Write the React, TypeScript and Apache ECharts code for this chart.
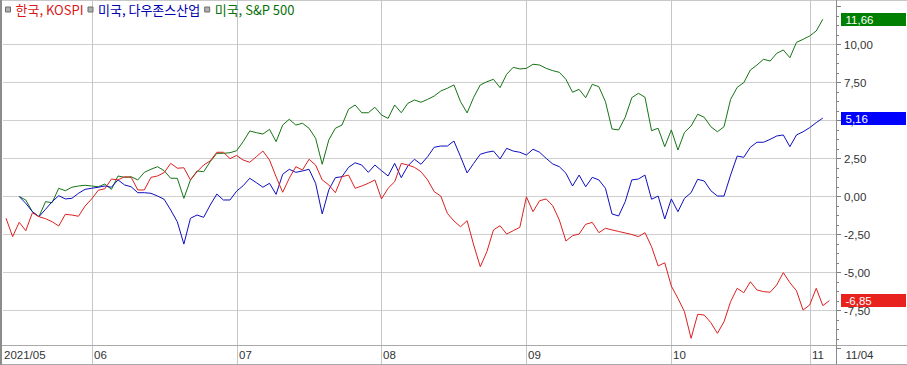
import React, { useEffect, useRef } from "react";
import * as echarts from "echarts";

// ---- data (trading-day index 0 = 2021-05-13, last = 2021-11-04) ----
const seriesNames = ["한국, KOSPI", "미국, 다우존스산업", "미국, S&P 500"];
const monthLabels = ["2021/05", "06", "07", "08", "09", "10", "11"];
const monthStartIdx = [0, 13, 35, 57, 79, 101, 122];
const lastDateLabel = "11/04";

const kospi = [
  -1.43, -2.64, -1.7, -2.25, -1.07, -1.33, -1.46, -1.66, -1.94, -1.17,
  -1.22, -1.3, -0.63, -0.16, 0.41, 0.51, 1.15, 1.09, 1.3, 1.26,
  0.43, 0.43, 1.26, 1.35, 1.57, 2.18, 1.86, 1.89, 1.09, 1.63,
  2.07, 2.34, 2.91, 2.91, 2.49, 2.7, 2.4, 2.25, 2.62, 2.99,
  2.4, 1.3, 0.28, 1.2, 1.96, 1.74, 2.45, 2.07, 1.09, 0.76,
  0.25, 1.3, 1.41, 0.54, 0.69, 0.87, 1.09, -0.16, 0.54, 0.97,
  2.18, 2.07, 1.92, 1.63, 1.09, 0.32, 0.03, -1.11, -1.61, -1.99,
  -1.59, -3.19, -4.62, -3.63, -2.2, -1.92, -2.47, -2.25, -2.03, -0.02,
  -1.0, -0.28, -0.16, -0.61, -1.55, -2.93, -2.58, -2.47, -1.83, -1.7,
  -2.38, -2.09, -2.2, -2.3, -2.4, -2.5, -2.64, -2.38, -3.3, -4.57,
  -4.36, -5.89, -6.7, -7.58, -9.33, -7.75, -7.8, -8.3, -9.0, -8.24,
  -6.92, -6.04, -6.33, -5.61, -6.15, -6.26, -6.3, -5.82, -5.01, -5.67,
  -6.2, -7.47, -7.14, -6.04, -7.18, -6.85,
];

const dow = [
  null, null, 0.0, -0.45, -1.0, -1.33, -0.84, -0.34, 0.05, -0.16,
  -0.12, 0.21, 0.47, 0.54, 0.61, 0.69, 0.61, 1.09, 0.76, 0.64,
  0.25, 0.25, 0.21, 0.03, -0.18, -0.89, -1.66, -3.13, -1.43, -1.22,
  -1.37, -0.56, 0.16, -0.23, -0.23, 0.35, 0.71, 1.2, 0.91, 0.61,
  0.87, 0.14, 1.46, 1.79, 1.59, 1.68, 1.79, 0.87, -1.15, 0.43,
  1.24, 1.3, 1.92, 2.22, 2.07, 1.59, 2.07, 1.7, 1.35, 2.18,
  1.24, 2.01, 2.45, 2.12, 2.62, 3.24, 3.32, 3.32, 3.65, 2.62,
  1.55, 2.18, 2.78, 2.91, 2.99, 2.47, 3.17, 2.99, 2.91, 2.73,
  3.11, 2.91, 2.51, 2.14, 1.96, 1.53, 0.69, 1.41, 0.64, 1.26,
  1.09, 0.54, -1.15, -1.28, -0.34, 1.09, 1.15, 1.41, -0.18, 0.03,
  -1.48, -0.16, -1.0, -0.12, 0.25, 1.13, 1.02, 0.38, 0.03, 0.03,
  1.41, 2.66, 2.58, 3.24, 3.57, 3.57, 3.76, 3.98, 4.05, 3.28,
  4.05, 4.26, 4.53, 4.86, 5.16,
];

const sp500 = [
  null, null, 0.0, -0.23, -1.0, -1.33, -0.34, -0.41, 0.54, 0.38,
  0.61, 0.69, 0.74, 0.69, 0.64, 0.82, 0.47, 1.35, 1.26, 1.3,
  1.09, 1.59, 1.79, 1.96, 1.7, 1.2, 1.2, -0.12, 1.09, 1.68,
  1.63, 2.29, 2.84, 2.84, 2.88, 3.01, 3.61, 4.31, 4.2, 4.11,
  4.42, 3.61, 4.7, 5.08, 4.7, 4.82, 4.49, 3.83, 2.12, 3.72,
  4.49, 4.7, 5.74, 6.02, 5.51, 5.51, 5.87, 5.36, 5.14, 6.02,
  5.51, 6.13, 6.35, 6.2, 6.39, 6.61, 6.94, 7.12, 7.34, 6.24,
  5.5, 6.53, 7.34, 7.55, 7.71, 7.16, 8.04, 8.5, 8.39, 8.43,
  8.7, 8.65, 8.43, 8.28, 8.17, 7.71, 6.86, 7.05, 6.5, 7.38,
  7.22, 6.24, 4.44, 4.38, 5.21, 6.5, 6.79, 6.53, 4.33, 4.49,
  3.28, 4.38, 3.06, 4.22, 4.64, 5.41, 5.21, 4.59, 4.26, 4.59,
  6.39, 7.18, 7.49, 8.32, 8.65, 9.03, 8.91, 9.42, 9.64, 9.13,
  10.14, 10.34, 10.56, 10.89, 11.66,
];

const allSeries = [kospi, dow, sp500];
const lineColors = ["#dc2020", "#0e0ec0", "#167416"];
const legendColors = ["#d81818", "#0000b0", "#0a700a"];
const boxColors = ["#e8221c", "#0000ff", "#008000"];

const X_MIN = -0.46;
const X_MAX = 126;
const Y_MIN = -10;
const Y_MAX = 12.5;
const Y_STEP = 2.5;

const NUM_FONT = '"Liberation Sans", Arial, sans-serif';
const fmt = (v: number) => v.toFixed(2).replace(".", ",");

export default function App() {
  const ref = useRef<HTMLDivElement>(null);

  useEffect(() => {
    const el = ref.current;
    if (!el) return;
    const chart = echarts.init(el, null, { renderer: "svg" });

    const series = allSeries.map((arr, k) => ({
      name: seriesNames[k],
      type: "line",
      data: arr
        .map((v, i) => [i, v])
        .filter((p) => p[1] !== null && p[1] !== undefined),
      showSymbol: false,
      symbol: "none",
      lineStyle: { color: lineColors[k], width: 1 },
      itemStyle: { color: lineColors[k] },
      z: 3 + (2 - k),
    }));

    chart.setOption({
      animation: false,
      backgroundColor: "#ffffff",
      grid: { left: 3, right: 71, top: 6.5, bottom: 16.5, containLabel: false },
      legend: {
        left: 5,
        top: 3,
        padding: 0,
        icon: "rect",
        itemWidth: 5,
        itemHeight: 5,
        itemGap: 4,
        textStyle: { fontSize: 13, fontFamily: '"Noto Sans CJK KR", sans-serif' },
        data: seriesNames.map((n, k) => ({
          name: n,
          itemStyle: { color: "#b0b0b0", borderColor: "#6e6e6e", borderWidth: 1 },
          textStyle: { color: legendColors[k] },
        })),
      },
      xAxis: {
        type: "value",
        min: X_MIN,
        max: X_MAX,
        axisLine: { show: false, onZero: false },
        axisTick: { show: false },
        axisLabel: { show: false },
        splitLine: { show: false },
      },
      yAxis: {
        type: "value",
        position: "right",
        min: Y_MIN,
        max: Y_MAX,
        interval: Y_STEP,
        axisLine: { show: false, onZero: false },
        axisTick: { show: true, length: 5, lineStyle: { color: "#808080" } },
        minorTick: { show: true, splitNumber: 4, length: 3, lineStyle: { color: "#808080" } },
        axisLabel: {
          margin: 8,
          color: "#333333",
          fontSize: 11.5,
          fontFamily: NUM_FONT,
          showMinLabel: false,
          showMaxLabel: false,
          formatter: (v: number) => fmt(v),
        },
        splitLine: {
          show: true,
          showMinLine: false,
          showMaxLine: false,
          lineStyle: { color: "#cfcfcf", width: 1 },
        },
      },
      series,
    });

    const X = (i: number) => chart.convertToPixel({ xAxisIndex: 0 }, i) as number;
    const Y = (v: number) => chart.convertToPixel({ yAxisIndex: 0 }, v) as number;
    const axisX = Math.round(X(X_MAX)) + 0.5;
    const stripTop = 345.5;
    const stripBottom = 364.5;
    const W = 907;

    const g: any[] = [];
    g.push({ type: "line", z: 1, silent: true, shape: { x1: 0, y1: 0.5, x2: W, y2: 0.5 }, style: { stroke: "#c8c8c8", lineWidth: 1 } });
    monthStartIdx.slice(1).forEach((i) => {
      const x = Math.round(X(i)) + 0.5;
      g.push({ type: "line", z: 1, silent: true, shape: { x1: x, y1: 0, x2: x, y2: stripBottom }, style: { stroke: "#c6c6c6", lineWidth: 1 } });
    });
    g.push({ type: "line", z: 1, silent: true, shape: { x1: 0, y1: stripTop, x2: W, y2: stripTop }, style: { stroke: "#a8a8a8", lineWidth: 1 } });
    g.push({ type: "line", z: 1, silent: true, shape: { x1: 0, y1: stripBottom, x2: W, y2: stripBottom }, style: { stroke: "#a8a8a8", lineWidth: 1 } });
    g.push({ type: "line", z: 1, silent: true, shape: { x1: axisX, y1: 0, x2: axisX, y2: stripBottom }, style: { stroke: "#8a8a8a", lineWidth: 1 } });
    g.push({ type: "rect", z: 50, silent: true, shape: { x: 0, y: 0, width: 2, height: 365 }, style: { fill: "#8c8c8c" } });

    monthStartIdx.forEach((i, k) => {
      const x = k === 0 ? 4 : Math.round(X(i)) + 2;
      g.push({
        type: "text", z: 5, silent: true, x, y: 355,
        style: { text: monthLabels[k], fill: "#333333", fontSize: 11.5, fontFamily: NUM_FONT, align: "left", verticalAlign: "middle" },
      });
    });
    g.push({
      type: "text", z: 5, silent: true, x: axisX + 9, y: 355,
      style: { text: lastDateLabel, fill: "#333333", fontSize: 11.5, fontFamily: NUM_FONT, align: "left", verticalAlign: "middle" },
    });

    allSeries.forEach((arr, k) => {
      let last: number | null = null;
      for (let i = arr.length - 1; i >= 0; i--) {
        if (arr[i] !== null && arr[i] !== undefined) { last = arr[i] as number; break; }
      }
      if (last === null) return;
      const y = Y(last);
      g.push({ type: "rect", z: 100, silent: true, shape: { x: axisX + 4.5, y: Math.round(y - 6.5), width: 65, height: 13 }, style: { fill: boxColors[k] } });
      g.push({
        type: "text", z: 101, silent: true, x: axisX + 9, y: Math.round(y - 6.5) + 7,
        style: { text: fmt(last), fill: "#ffffff", fontSize: 11.5, fontFamily: NUM_FONT, align: "left", verticalAlign: "middle" },
      });
    });

    chart.setOption({ graphic: g });

    return () => chart.dispose();
  }, []);

  return (
    <div
      ref={ref}
      style={{ position: "fixed", left: 0, top: 0, width: 907, height: 365, background: "#fff" }}
    />
  );
}
